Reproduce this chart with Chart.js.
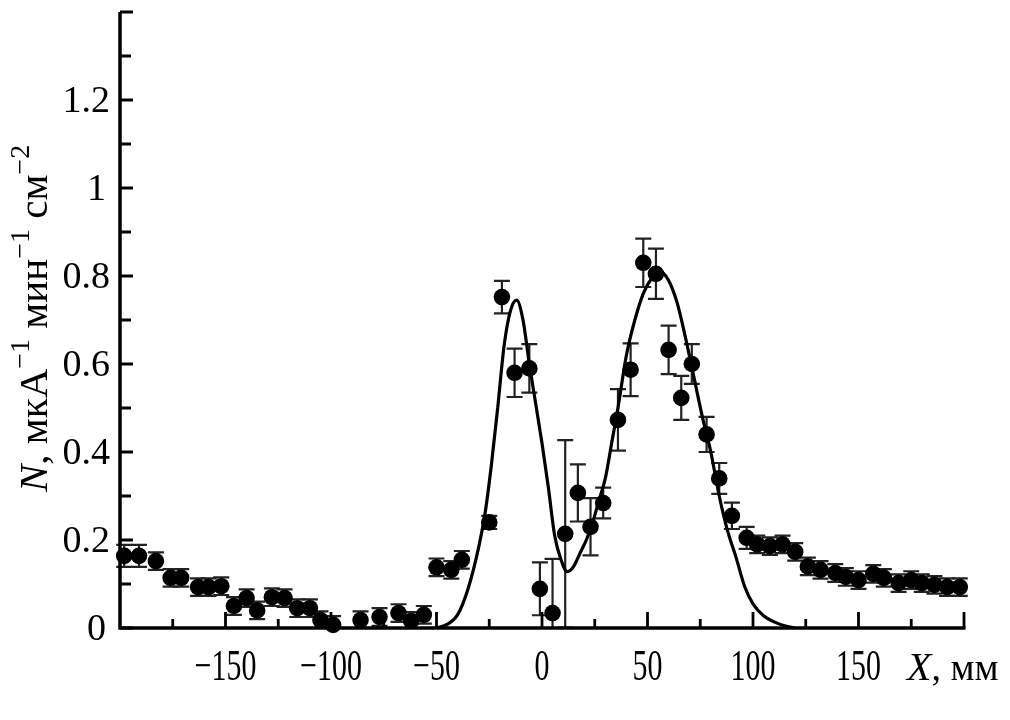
<!DOCTYPE html>
<html>
<head>
<meta charset="utf-8">
<script src="https://cdn.jsdelivr.net/npm/chart.js@4.4.0/dist/chart.umd.min.js"></script>
<style>
  html, body { margin: 0; padding: 0; background: #fff; }
</style>
</head>
<body>
<canvas id="chart" width="1010" height="720"></canvas>
<script>
// measured points (X in mm, N with error)
const posX = [-198, -191, -183, -176, -171, -163, -158, -152, -146, -140, -135, -128, -122, -116, -110,
  -105, -99, -86, -77, -68, -62, -56, -50, -43, -38, -25, -19, -13, -6, -1,
  5, 11, 17, 23, 29, 36, 42, 48, 54, 60, 66, 71, 78, 84, 90,
  97, 102, 108, 114, 120, 126, 132, 139, 144, 150, 157, 162, 169, 175, 180,
  186, 192, 198];
const valN = [0.164, 0.164, 0.152, 0.114, 0.114, 0.093, 0.093, 0.095, 0.05, 0.068, 0.04, 0.07, 0.068, 0.045, 0.045,
  0.018, 0.007, 0.018, 0.025, 0.034, 0.016, 0.03, 0.138, 0.132, 0.155, 0.24, 0.752, 0.58, 0.59, 0.089,
  0.034, 0.214, 0.307, 0.23, 0.284, 0.473, 0.587, 0.83, 0.805, 0.632, 0.523, 0.6, 0.44, 0.34, 0.255,
  0.205, 0.19, 0.186, 0.19, 0.173, 0.14, 0.132, 0.125, 0.116, 0.109, 0.123, 0.114, 0.102, 0.109, 0.102,
  0.098, 0.093, 0.093];
const errN = [0.025, 0.025, 0.02, 0.02, 0.02, 0.02, 0.02, 0.02, 0.02, 0.02, 0.02, 0.02, 0.02, 0.02, 0.02,
  0.02, 0.02, 0.02, 0.02, 0.02, 0.02, 0.02, 0.02, 0.02, 0.02, 0.015, 0.037, 0.055, 0.055, 0.06,
  0.123, 0.213, 0.065, 0.065, 0.035, 0.07, 0.06, 0.055, 0.057, 0.055, 0.05, 0.045, 0.04, 0.035, 0.03,
  0.025, 0.02, 0.02, 0.02, 0.02, 0.02, 0.02, 0.02, 0.02, 0.02, 0.02, 0.02, 0.02, 0.02, 0.02,
  0.02, 0.02, 0.02];

// fitted curve
const fitX = [-50, -45, -40, -35, -30, -27, -24, -21, -18, -15, -12, -9, -6, -3, 0, 3, 6, 9, 12, 15,
  18, 21, 24, 27, 30, 33, 36, 40, 44, 48, 52, 56, 60, 64, 68, 72, 76, 80, 84, 88,
  92, 96, 100, 105, 110, 115, 120];
const fitN = [0, 0.008, 0.03, 0.09, 0.184, 0.26, 0.37, 0.5, 0.64, 0.72, 0.745, 0.7, 0.6, 0.51, 0.42, 0.32, 0.21, 0.155, 0.128, 0.14,
  0.17, 0.2, 0.24, 0.29, 0.34, 0.42, 0.5, 0.62, 0.7, 0.76, 0.795, 0.81, 0.79, 0.74, 0.66, 0.57, 0.48, 0.4, 0.3, 0.22,
  0.16, 0.095, 0.055, 0.028, 0.014, 0.005, 0];

// axis ticks
const xMajor = [-150, -100, -50, 0, 50, 100, 150, 200];
const xLabels = ["\u2212150", "\u2212100", "\u221250", "0", "50", "100", "150", ""];
const xMinor = [-175, -125, -75, -25, 25, 75, 125, 175];
const yMajor = [0, 0.2, 0.4, 0.6, 0.8, 1, 1.2, 1.4];
const yLabels = ["0", "0.2", "0.4", "0.6", "0.8", "1", "1.2", ""];
const yMinor = [0.1, 0.3, 0.5, 0.7, 0.9, 1.1, 1.3];

const serif = '"Liberation Serif", "DejaVu Serif", serif';

const errorBars = {
  id: 'errorBars',
  beforeDatasetsDraw(chart) {
    const { ctx, scales: { x, y } } = chart;
    ctx.save();
    ctx.strokeStyle = '#222';
    ctx.lineWidth = 2.2;
    posX.forEach((v, i) => {
      const px = x.getPixelForValue(v);
      const top = y.getPixelForValue(valN[i] + errN[i]);
      const bot = y.getPixelForValue(Math.max(0, valN[i] - errN[i]));
      ctx.beginPath();
      ctx.moveTo(px, top); ctx.lineTo(px, bot);
      ctx.moveTo(px - 8, top); ctx.lineTo(px + 8, top);
      if (valN[i] - errN[i] > 0) { ctx.moveTo(px - 8, bot); ctx.lineTo(px + 8, bot); }
      ctx.stroke();
    });
    ctx.restore();
  }
};

function drawRuns(ctx, runs) {
  let cx = 0;
  runs.forEach(r => {
    ctx.font = r.f;
    ctx.fillText(r.t, cx, r.dy || 0);
    cx += ctx.measureText(r.t).width;
  });
}

const frame = {
  id: 'frame',
  afterDatasetsDraw(chart) {
    const { ctx, chartArea: a, scales: { x, y } } = chart;
    ctx.save();
    ctx.strokeStyle = '#000';
    ctx.fillStyle = '#000';
    ctx.lineWidth = 3.5;
    ctx.beginPath();
    ctx.moveTo(a.left, a.top);
    ctx.lineTo(a.left, a.bottom);
    ctx.lineTo(a.right + 1.5, a.bottom);
    ctx.stroke();

    ctx.lineWidth = 2.8;
    ctx.beginPath();
    xMajor.forEach(v => { const p = x.getPixelForValue(v); ctx.moveTo(p, a.bottom); ctx.lineTo(p, a.bottom - 16); });
    xMinor.forEach(v => { const p = x.getPixelForValue(v); ctx.moveTo(p, a.bottom); ctx.lineTo(p, a.bottom - 9); });
    yMajor.forEach(v => { const p = y.getPixelForValue(v); ctx.moveTo(a.left, p); ctx.lineTo(a.left + 13, p); });
    yMinor.forEach(v => { const p = y.getPixelForValue(v); ctx.moveTo(a.left, p); ctx.lineTo(a.left + 11, p); });
    ctx.stroke();

    // y tick labels
    ctx.font = '38px ' + serif;
    ctx.textAlign = 'right';
    ctx.textBaseline = 'alphabetic';
    yMajor.forEach((v, i) => {
      const off = yLabels[i].length > 1 ? 110 : 106;
      ctx.fillText(yLabels[i], off, y.getPixelForValue(v) + 12);
    });

    // x tick labels, narrow face
    ctx.textAlign = 'center';
    xMajor.forEach((v, i) => {
      ctx.save();
      ctx.translate(x.getPixelForValue(v), 680);
      ctx.scale(0.68, 1);
      ctx.font = '44px ' + serif;
      ctx.fillText(xLabels[i], 0, 0);
      ctx.restore();
    });

    // x title
    ctx.textAlign = 'left';
    ctx.save();
    ctx.translate(907, 680);
    drawRuns(ctx, [
      { t: 'X', f: 'italic 40px ' + serif },
      { t: ', мм', f: '38px ' + serif }
    ]);
    ctx.restore();

    // y title
    ctx.save();
    ctx.translate(47, 492);
    ctx.rotate(-Math.PI / 2);
    drawRuns(ctx, [
      { t: 'N', f: 'italic 41px ' + serif },
      { t: ', мкА', f: '41px ' + serif },
      { t: '\u22121', f: '28px ' + serif, dy: -18 },
      { t: ' мин', f: '41px ' + serif },
      { t: '\u22121', f: '28px ' + serif, dy: -18 },
      { t: ' см', f: '41px ' + serif },
      { t: '\u22122', f: '28px ' + serif, dy: -18 }
    ]);
    ctx.restore();
    ctx.restore();
  }
};

new Chart(document.getElementById('chart'), {
  type: 'scatter',
  data: {
    datasets: [
      {
        label: 'fit',
        data: fitX.map((v, i) => ({ x: v, y: fitN[i] })),
        showLine: true,
        pointRadius: 0,
        borderColor: '#000',
        borderWidth: 3.2,
        cubicInterpolationMode: 'monotone',
        order: 2
      },
      {
        label: 'N',
        data: posX.map((v, i) => ({ x: v, y: valN[i] })),
        pointRadius: 8.3,
        pointBackgroundColor: '#000',
        pointBorderWidth: 0,
        clip: false,
        order: 1
      }
    ]
  },
  options: {
    responsive: false,
    animation: false,
    layout: { padding: { left: 120, right: 46, top: 12, bottom: 92 } },
    plugins: { legend: { display: false }, tooltip: { enabled: false } },
    scales: {
      x: { type: 'linear', min: -200, max: 200, display: false },
      y: { min: 0, max: 1.4, display: false }
    }
  },
  plugins: [errorBars, frame]
});
</script>
</body>
</html>
